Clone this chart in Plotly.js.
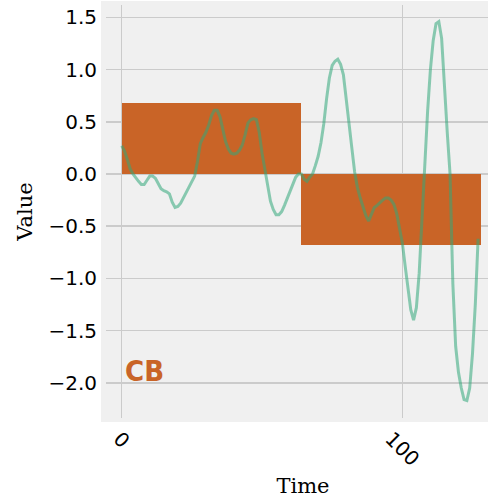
<!DOCTYPE html>
<html>
<head>
<meta charset="utf-8">
<script src="https://cdn.plot.ly/plotly-3.0.1.min.js"></script>
<style>
html, body { margin: 0; padding: 0; overflow: hidden; background: #ffffff; }
#chart { width: 500px; height: 499px; }
</style>
</head>
<body>
<div id="chart"></div>
<script>
// Line series (Time 0..127)
const time = Array.from({length: 128}, (_, i) => i);
const values = [
  0.27, 0.22, 0.14, 0.05, 0.00, -0.04, -0.07, -0.10, -0.10, -0.06,
  -0.02, -0.02, -0.04, -0.09, -0.14, -0.16, -0.17, -0.19, -0.27, -0.32,
  -0.31, -0.28, -0.23, -0.18, -0.12, -0.07, -0.02, 0.12, 0.29, 0.35,
  0.40, 0.47, 0.56, 0.61, 0.61, 0.55, 0.42, 0.31, 0.24, 0.20,
  0.19, 0.20, 0.23, 0.28, 0.38, 0.49, 0.52, 0.53, 0.52, 0.40,
  0.20, 0.04, -0.14, -0.26, -0.34, -0.39, -0.39, -0.36, -0.30, -0.23,
  -0.17, -0.09, -0.03, 0.00, 0.00, -0.05, -0.07, -0.03, 0.00, 0.08,
  0.17, 0.30, 0.48, 0.72, 0.92, 1.04, 1.08, 1.10, 1.05, 0.95,
  0.70, 0.45, 0.25, 0.02, -0.13, -0.23, -0.32, -0.40, -0.45, -0.38,
  -0.32, -0.30, -0.27, -0.25, -0.23, -0.23, -0.25, -0.29, -0.38, -0.52,
  -0.66, -0.88, -1.10, -1.30, -1.40, -1.28, -0.95, -0.45, 0.15, 0.60,
  1.00, 1.28, 1.44, 1.46, 1.30, 0.80, 0.40, 0.00, -1.05, -1.65,
  -1.90, -2.05, -2.16, -2.17, -2.05, -1.72, -1.25, -0.62
];
// Block bars
const barStarts = [0, 64];
const barWidths = [64, 64];
const barValues = [0.68, -0.68];
// Ticks
const yTicks = [-2.0, -1.5, -1.0, -0.5, 0.0, 0.5, 1.0, 1.5];
const xTicks = [0, 100];
const xTickLabels = ['0', '100'];
const badge = "CB";

const orange = '#c96427';
const traces = [
  {
    type: 'bar', x: barStarts, y: barValues, width: barWidths, offset: 0,
    marker: {color: orange, line: {width: 0}}, hoverinfo: 'skip', showlegend: false
  },
  {
    type: 'scatter', mode: 'lines', x: time, y: values,
    line: {color: 'rgba(49,167,122,0.55)', width: 3}, showlegend: false
  }
];

// rotated x tick labels, centred under each tick (top of rotated box aligned)
const xLabelAnns = xTicks.map((v, i) => ({
  xref: 'x', yref: 'paper', x: v, y: 0, xanchor: 'center', yanchor: 'top',
  yshift: -8, textangle: 45, showarrow: false, borderpad: 0,
  text: xTickLabels[i],
  font: {family: 'DejaVu Sans', size: 20, color: '#000000'}
}));

const layout = {
  width: 500, height: 499,
  margin: {l: 106, r: 0, t: 5, b: 81},
  paper_bgcolor: '#ffffff',
  plot_bgcolor: '#f0f0f0',
  bargap: 0,
  xaxis: {
    range: [-5.6, 134.8],
    tickvals: xTicks, showticklabels: false,
    ticks: '', showline: false, zeroline: false,
    gridcolor: '#cbcbcb', gridwidth: 1.5,
    title: {text: 'Time', font: {family: 'DejaVu Serif', size: 21, color: '#000000'}, standoff: 60}
  },
  yaxis: {
    range: [-2.337, 1.619],
    tickvals: yTicks, tickformat: '.1f',
    tickfont: {family: 'DejaVu Sans', size: 20, color: '#000000'},
    ticks: '', showline: false, zeroline: false,
    gridcolor: '#cbcbcb', gridwidth: 1.5,
    ticklabelstandoff: 8,
    title: {text: 'Value', font: {family: 'DejaVu Serif', size: 21, color: '#000000'}, standoff: 10}
  },
  shapes: [{
    type: 'rect', xref: 'paper', yref: 'paper', layer: 'below',
    x0: -0.0127, x1: 1.0, y0: -0.0097, y1: 1.0097,
    fillcolor: '#f0f0f0', line: {width: 0}
  }],
  annotations: [{
    xref: 'x', yref: 'y', x: 0.3, y: -2.0, xanchor: 'left', yanchor: 'bottom',
    yshift: -7,
    text: '<b>' + badge + '</b>', showarrow: false,
    font: {family: 'DejaVu Sans Condensed, DejaVu Sans', size: 29, color: orange}
  }].concat(xLabelAnns),
  showlegend: false
};

Plotly.newPlot('chart', traces, layout, {displayModeBar: false, staticPlot: true});
</script>
</body>
</html>
